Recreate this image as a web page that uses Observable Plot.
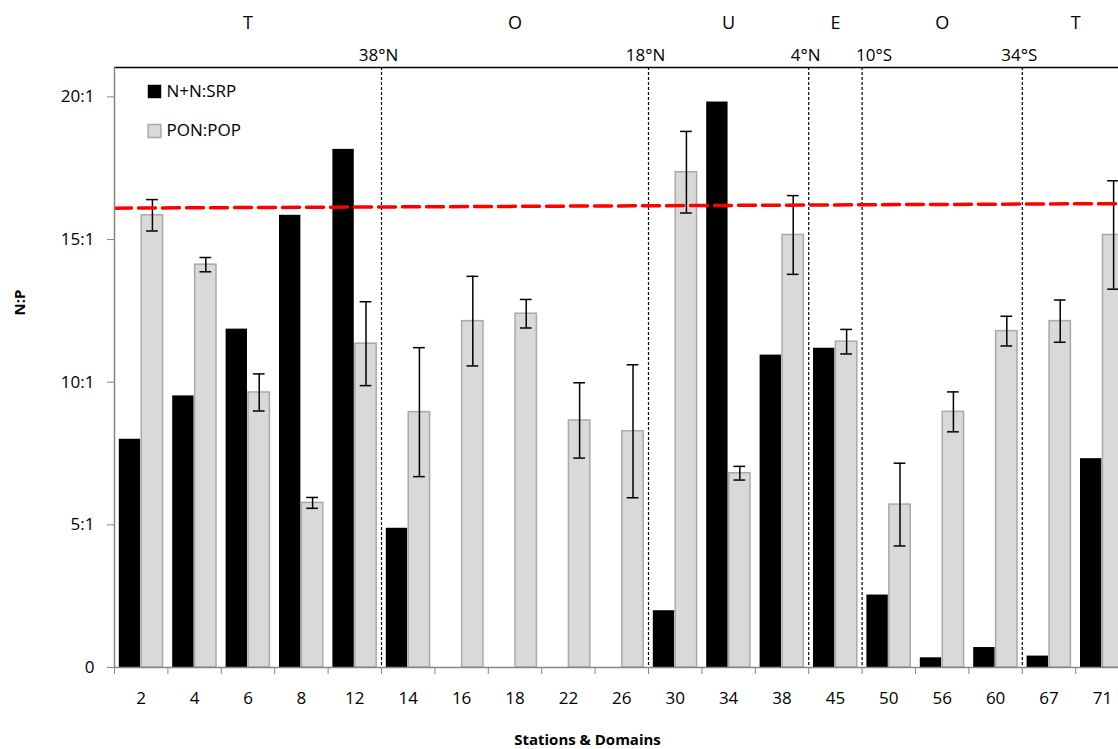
<!DOCTYPE html>
<html>
<head>
<meta charset="utf-8">
<script src="https://cdn.jsdelivr.net/npm/d3@7"></script>
<script src="https://cdn.jsdelivr.net/npm/@observablehq/plot@0.6"></script>
<style>
html, body { margin: 0; padding: 0; background: #fff; overflow: hidden; }
#chart svg { display: block; }
</style>
</head>
<body>
<div id="chart"></div>
<script>
// ---- data ----
const stations = ["2","4","6","8","12","14","16","18","22","26","30","34","38","45","50","56","60","67","71"];
const seriesNames = ["N+N:SRP", "PON:POP"];
const nnSrp = [8.0, 9.52, 11.86, 15.85, 18.16, 4.88, null, null, null, null, 1.99, 19.82, 10.95, 11.19, 2.54, 0.34, 0.70, 0.40, 7.32];
const ponPop = [15.85, 14.12, 9.64, 5.77, 11.35, 8.95, 12.14, 12.40, 8.66, 8.28, 17.36, 6.81, 15.16, 11.42, 5.71, 8.96, 11.79, 12.14, 15.16];
const ponPopErr = [0.55, 0.25, 0.65, 0.19, 1.47, 2.26, 1.57, 0.50, 1.32, 2.33, 1.43, 0.24, 1.38, 0.43, 1.45, 0.70, 0.52, 0.74, 1.90];
const redfieldTrend = [16.10, 16.26];            // at left and right ends of the x range
const boundaryAfter = ["12", "26", "38", "45", "60"]; // domain breaks follow these stations
const latitudeLabels = ["38°N", "18°N", "4°N", "10°S", "34°S"];
const domainLetters = ["T", "O", "U", "E", "O", "T"];
const yTicks = [0, 5, 10, 15, 20];
const yTickLabels = ["0", "5:1", "10:1", "15:1", "20:1"];
const xTitle = "Stations & Domains";
const yTitle = "N:P";

// ---- derived tables ----
const idx = stations.map((s, i) => i);
const xMin = -0.5, xMax = stations.length - 0.5;
const blackRows = idx.filter(i => nnSrp[i] != null).map(i => ({i, v: nnSrp[i]}));
const greyRows = idx.map(i => ({i, v: ponPop[i], e: ponPopErr[i]}));
const breaks = boundaryAfter.map(s => stations.indexOf(s) + 0.5);
const latRows = breaks.map((b, k) => ({x: b, label: latitudeLabels[k], k}));
const edges = [xMin, ...breaks, xMax];
const letterRows = domainLetters.map((l, k) => ({x: (edges[k] + edges[k + 1]) / 2, label: l}));
const trendRows = [{x: xMin, y: redfieldTrend[0]}, {x: xMax, y: redfieldTrend[1]}];

const W = 1118, H = 749;
const mL = 114, mT = 67, mB = 82;
const yTop = 21.03;
const xDomRight = xMin + (W - mL) / 53.4;
const grey = "#868686";

const chart = Plot.plot({
  width: W, height: H,
  marginLeft: mL, marginRight: 0, marginTop: mT, marginBottom: mB,
  style: {fontFamily: "'Open Sans', sans-serif", fontSize: "17px", color: "#000", background: "#fff", overflow: "hidden"},
  x: {type: "linear", domain: [xMin, xDomRight], axis: null, label: null},
  y: {domain: [0, yTop], axis: null, label: null},
  marks: [
    // bars
    Plot.rectY(blackRows, {x1: d => d.i - 0.41, x2: d => d.i - 0.01, y1: 0, y2: "v", fill: "#000", clip: true}),
    Plot.rectY(greyRows, {x1: d => d.i + 0.01, x2: d => d.i + 0.41, y1: 0, y2: "v", fill: "#d9d9d9", stroke: "#a9a9a9", strokeWidth: 1.5, clip: true}),
    // error bars
    Plot.ruleX(greyRows, {x: d => d.i + 0.21, y1: d => d.v - d.e, y2: d => d.v + d.e, stroke: "#000", strokeWidth: 1.5, clip: true}),
    Plot.ruleY(greyRows, {y: d => d.v + d.e, x1: d => d.i + 0.10, x2: d => d.i + 0.32, stroke: "#000", strokeWidth: 1.5, clip: true}),
    Plot.ruleY(greyRows, {y: d => d.v - d.e, x1: d => d.i + 0.10, x2: d => d.i + 0.32, stroke: "#000", strokeWidth: 1.5, clip: true}),
    // domain break lines
    Plot.ruleX(breaks, {stroke: "#000", strokeWidth: 1.2, strokeDasharray: "3,2"}),
    // redfield trend
    Plot.line(trendRows, {x: "x", y: "y", stroke: "#ff0000", strokeWidth: 3.5, strokeDasharray: "17,7", clip: true}),
    // frame lines
    Plot.ruleY([yTop], {stroke: "#000", strokeWidth: 1.5}),
    Plot.ruleX([xMin], {stroke: grey, strokeWidth: 1.5}),
    Plot.ruleY([0], {stroke: grey, strokeWidth: 1.5}),
    // y axis
    Plot.axisY({ticks: yTicks, tickFormat: d => yTickLabels[yTicks.indexOf(d)], tickSize: 7, tickPadding: 13, stroke: grey, fill: "#000", fontSize: 17, label: null}),
    // x axis: ticks at category boundaries, labels at centers
    Plot.axisX({ticks: d3.range(xMin, xMax + 0.01, 1), tickFormat: () => "", tickSize: 7, stroke: grey, label: null}),
    Plot.axisX({ticks: idx, tickFormat: d => stations[d], tickSize: 0, tickPadding: 24, fill: "#000", fontSize: 17, label: null}),
    // axis titles
    Plot.text([xTitle], {frameAnchor: "bottom-left", dx: 587 - mL, dy: 73, fontWeight: "bold", fontSize: 15, textAnchor: "middle", lineAnchor: "middle"}),
    Plot.text([yTitle], {frameAnchor: "top-left", dx: 20 - mL, dy: 302 - mT, rotate: -90, fontWeight: "bold", fontSize: 15, textAnchor: "middle", lineAnchor: "middle"}),
    // latitude labels
    Plot.text(latRows.filter(d => d.k !== 3), {x: "x", frameAnchor: "top", text: "label", dy: -12, dx: -3, fontSize: 17, lineAnchor: "middle"}),
    Plot.text(latRows.filter(d => d.k === 3), {x: "x", frameAnchor: "top", text: "label", dy: -12, dx: -6, textAnchor: "start", fontSize: 17, lineAnchor: "middle"}),
    // domain letters
    Plot.text(letterRows, {x: "x", frameAnchor: "top", text: "label", dy: -44, fontSize: 18, lineAnchor: "middle"}),
    // legend
    Plot.dot([seriesNames[0]], {frameAnchor: "top-left", dx: 154 - mL, dy: 91 - mT, symbol: "square", r: 7.6, fill: "#000"}),
    Plot.dot([seriesNames[1]], {frameAnchor: "top-left", dx: 154 - mL, dy: 130.5 - mT, symbol: "square", r: 7.2, fill: "#d9d9d9", stroke: "#a9a9a9", strokeWidth: 1.5}),
    Plot.text([seriesNames[0]], {frameAnchor: "top-left", dx: 166 - mL, dy: 91 - mT, textAnchor: "start", lineAnchor: "middle", fontSize: 17}),
    Plot.text([seriesNames[1]], {frameAnchor: "top-left", dx: 166 - mL, dy: 130.5 - mT, textAnchor: "start", lineAnchor: "middle", fontSize: 17})
  ]
});
document.getElementById("chart").appendChild(chart);
</script>
</body>
</html>
